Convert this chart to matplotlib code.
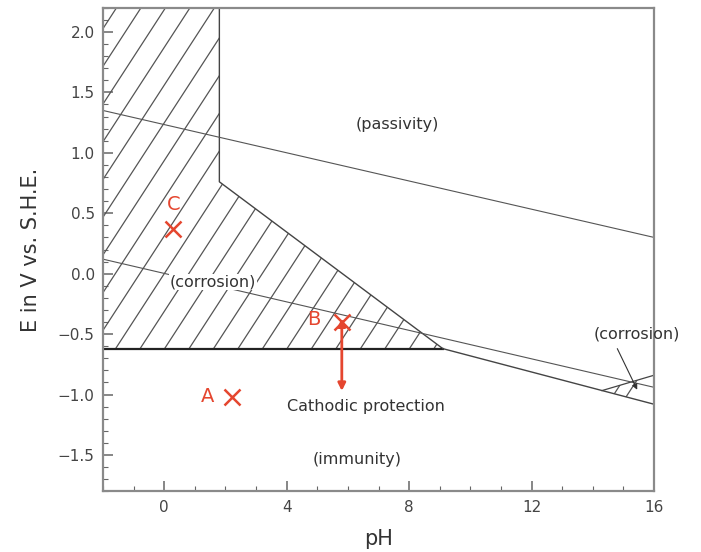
import numpy as np
import matplotlib.pyplot as plt
from matplotlib.patches import Polygon
from matplotlib.ticker import MultipleLocator

# Fe Pourbaix diagram, boundaries
corr_ph = [-2, 1.8, 1.8, 9.1, -2]
corr_e = [2.2, 2.2, 0.76, -0.62, -0.62]

alk_ph = [14.3, 16, 16]
alk_e = [-0.967, -0.84, -1.08]

low_ph = [9.1, 16]
low_e = [-0.62, -1.08]

o2_ph = [-2, 16]
o2_e = [1.35, 0.30]
h2_ph = [-2, 16]
h2_e = [0.12, -0.94]

pts_ph = [2.2, 5.8, 0.3]
pts_e = [-1.02, -0.40, 0.37]
pts_lbl = ["A", "B", "C"]

red = "#e5462f"
grey = "#8a8a8a"
txt = "#333333"

fig = plt.figure(figsize=(7.01, 5.52), dpi=100)
ax = fig.add_axes([0.147, 0.110, 0.786, 0.876])


def hatch(ph, e, step, slope=0.39):
    # steep "/" hatch lines clipped to the region
    poly = Polygon(np.column_stack([ph, e]), closed=True, facecolor="none", lw=0)
    ax.add_patch(poly)
    xs = np.array([-2.0, 16.0])
    for c in np.arange(-12, 18, step):
        ln, = ax.plot(xs, slope * (xs - c), color="#555555", lw=0.9)
        ln.set_clip_path(poly)


hatch(corr_ph, corr_e, 0.8)
hatch(alk_ph, alk_e, 0.45)

# boundaries
ax.plot(corr_ph[1:4], corr_e[1:4], color="#444444", lw=1.0)
ax.plot(corr_ph[3:5], corr_e[3:5], color="#222222", lw=1.6)
ax.plot(low_ph, low_e, color="#444444", lw=1.0)
ax.plot(alk_ph[:2], alk_e[:2], color="#444444", lw=0.9)
ax.plot(o2_ph, o2_e, color="#555555", lw=0.8)
ax.plot(h2_ph, h2_e, color="#555555", lw=0.8)

# labels
ax.text(7.6, 1.23, "(passivity)", fontsize=11.5, color=txt, ha="center", va="center")
ax.text(1.6, -0.07, "(corrosion)", fontsize=11.5, color=txt, ha="center", va="center",
        bbox=dict(facecolor="white", edgecolor="none", pad=0.5))
ax.text(6.6, -1.1, "Cathodic protection", fontsize=11.5, color=txt, ha="center", va="center")
ax.text(6.3, -1.54, "(immunity)", fontsize=11.5, color=txt, ha="center", va="center")
ax.text(15.45, -0.50, "(corrosion)", fontsize=11.5, color=txt, ha="center", va="center",
        clip_on=False)
ax.annotate("", xy=(15.45, -0.96), xytext=(14.8, -0.62),
            arrowprops=dict(arrowstyle="-|>", color=txt, lw=0.8,
                            shrinkA=0, shrinkB=0, mutation_scale=8))

# red points
ax.plot(pts_ph, pts_e, "x", color=red, ms=11, mew=1.8)
ax.text(pts_ph[0] - 0.8, pts_e[0], pts_lbl[0], color=red, fontsize=14, ha="center", va="center")
ax.text(pts_ph[1] - 0.9, pts_e[1] + 0.02, pts_lbl[1], color=red, fontsize=14, ha="center", va="center")
ax.text(pts_ph[2], pts_e[2] + 0.2, pts_lbl[2], color=red, fontsize=14, ha="center", va="center")
ax.annotate("", xy=(5.8, -0.97), xytext=(5.8, -0.37),
            arrowprops=dict(arrowstyle="<|-|>", color=red, lw=2, mutation_scale=11,
                            shrinkA=0, shrinkB=0))

ax.set_xlim(-2, 16)
ax.set_ylim(-1.8, 2.2)
ax.set_xticks([0, 4, 8, 12, 16])
ax.set_yticks([-1.5, -1.0, -0.5, 0.0, 0.5, 1.0, 1.5, 2.0])
ax.xaxis.set_minor_locator(MultipleLocator(1))
ax.yaxis.set_minor_locator(MultipleLocator(0.1))
ax.tick_params(which="both", direction="in", top=False, right=False,
               labelsize=11, labelcolor="#444444", color="#666666")
ax.tick_params(which="major", length=7, width=1.1, pad=6)
ax.tick_params(which="minor", length=3.5, width=0.8)
for s in ax.spines.values():
    s.set_color(grey)
    s.set_linewidth(1.6)

ax.set_xlabel("pH", fontsize=15, color=txt, labelpad=10)
ax.set_ylabel("E in V vs. S.H.E.", fontsize=15, color=txt, labelpad=12)

plt.savefig("out.png", dpi=100)
